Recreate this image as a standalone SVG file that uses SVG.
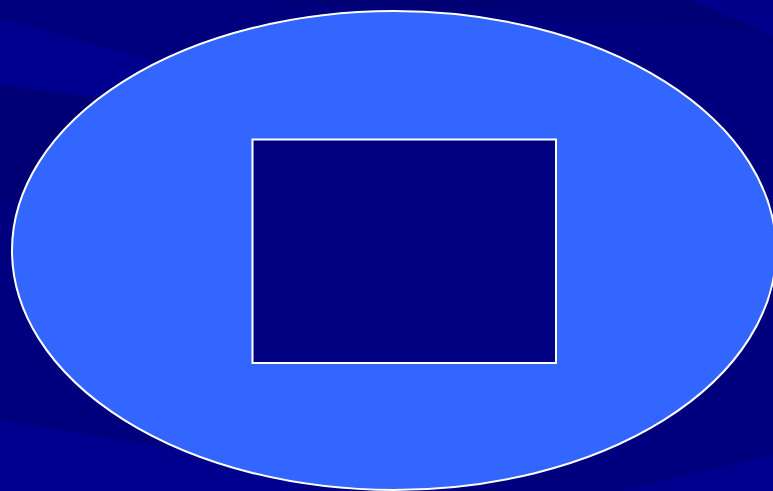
<svg xmlns="http://www.w3.org/2000/svg" width="773" height="491" viewBox="0 0 773 491">
<style>
.ray{fill:#000099;opacity:0.6}
.dark{fill:#00006e;opacity:0.6}
</style>
<rect x="0" y="0" width="773" height="491" fill="#00007e"/>
<polygon class="dark" points="0,0 773,0 773,30 250,0"/>
<polygon class="ray" points="0,18 150,60 150,105 0,85"/>
<polygon class="dark" points="0,85 150,105 150,200 0,200"/>
<polygon class="ray" points="690,0 773,0 773,35"/>
<polygon class="ray" points="0,420 300,470 300,491 0,491"/>
<polygon class="ray" points="620,491 773,455 773,491"/>
<g id="ellipse-node">
<ellipse cx="394" cy="250.5" rx="382" ry="239.5" fill="#3366ff" stroke="#ffffff" stroke-width="2"/>
</g>
<g id="rect-node">
<rect x="252.5" y="139.5" width="303.5" height="223.5" fill="#000080" stroke="#ffffff" stroke-width="2"/>
</g>
<g id="connectors"/>
</svg>
